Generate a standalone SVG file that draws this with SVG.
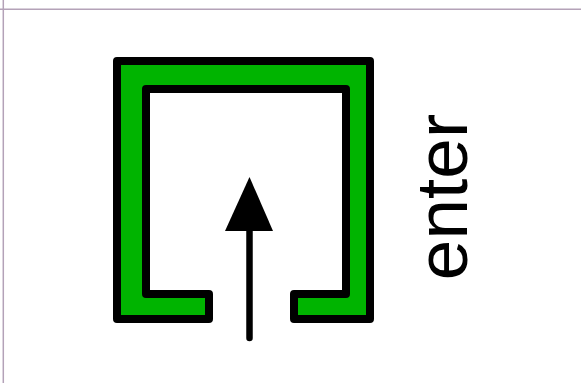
<svg xmlns="http://www.w3.org/2000/svg" width="581" height="383" viewBox="0 0 581 383">
<style>
.grid{stroke:#b4a2b8;stroke-width:1.5;fill:none}
.wall{fill:#00b400;stroke:#000;stroke-width:8;stroke-linejoin:round}
.arrow{stroke:#000;stroke-width:6.5;stroke-linecap:round;fill:none}
.label{font-family:"Liberation Sans",Arial,sans-serif;font-size:73px;fill:#000}
</style>
<rect width="581" height="383" fill="#fff"/>
<g id="guides">
<line class="grid" x1="0" y1="9.3" x2="581" y2="9.3"/>
<line class="grid" x1="3.3" y1="0" x2="3.3" y2="383"/>
</g>
<g id="room">
<path class="wall" d="M117,61 H370 V319 H294 V294 H346 V89 H146 V294 H209 V319 H117 Z"/>
</g>
<g id="connectors">
<line class="arrow" x1="249.5" y1="338" x2="249.5" y2="225"/>
<polygon points="249.5,177 225,231 273,231" fill="#000"/>
</g>
<g id="label-enter">
<text class="label" transform="translate(467,197) rotate(-90)" text-anchor="middle">enter</text>
</g>
</svg>
